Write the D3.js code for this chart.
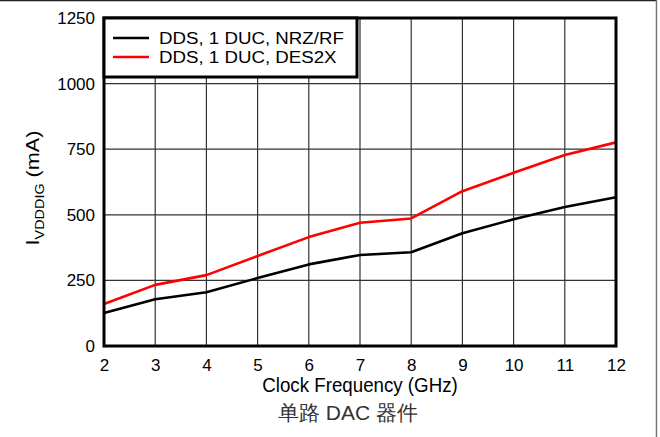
<!DOCTYPE html>
<html>
<head>
<meta charset="utf-8">
<script src="https://cdn.jsdelivr.net/npm/d3@7"></script>
<style>
  body { margin: 0; background: #fff; }
  text { font-family: "Liberation Sans", Arial, sans-serif; }
</style>
</head>
<body>
<script>
// chart data
var freqs = [2, 3, 4, 5, 6, 7, 8, 9, 10, 11, 12];
var nrzValues = [126, 178, 205, 259, 311, 347, 357, 430, 483, 530, 567];
var desValues = [160, 233, 270, 343, 415, 470, 486, 590, 660, 728, 776];
var seriesNames = ["DDS, 1 DUC, NRZ/RF", "DDS, 1 DUC, DES2X"];
var seriesColors = ["#000000", "#ff0000"];
var yTicks = [0, 250, 500, 750, 1000, 1250];

function drawChart() {
  var w = 660, h = 437;
  var pLeft = 104, pRight = 616, pTop = 18, pBottom = 346;
  // the source figure looks squeezed sideways, so text is narrowed a bit
  var squeeze = 0.96;

  var svg = d3.select("body").append("svg")
    .attr("width", w)
    .attr("height", h);

  // outer frame of the figure
  svg.append("line").attr("x1", 0).attr("x2", 657).attr("y1", 0.5).attr("y2", 0.5)
    .attr("stroke", "#222").attr("stroke-width", 1.5);
  svg.append("line").attr("x1", 656.5).attr("x2", 656.5).attr("y1", 0).attr("y2", h)
    .attr("stroke", "#777").attr("stroke-width", 1.5);

  var x = d3.scaleLinear().domain([2, 12]).range([pLeft, pRight]);
  var y = d3.scaleLinear().domain([0, 1250]).range([pBottom, pTop]);

  // grid
  svg.append("g").selectAll("line").data(freqs.slice(1, -1)).enter().append("line")
    .attr("x1", function(d) { return x(d); })
    .attr("x2", function(d) { return x(d); })
    .attr("y1", pTop).attr("y2", pBottom)
    .attr("stroke", "#333").attr("stroke-width", 1.2);
  svg.append("g").selectAll("line").data(yTicks.slice(1, -1)).enter().append("line")
    .attr("x1", pLeft).attr("x2", pRight)
    .attr("y1", function(d) { return y(d); })
    .attr("y2", function(d) { return y(d); })
    .attr("stroke", "#333").attr("stroke-width", 1.2);

  // axes, only the labels are kept
  var xAxis = d3.axisBottom(x).tickValues(freqs).tickSize(0).tickPadding(13)
    .tickFormat(d3.format("d"));
  var yAxis = d3.axisLeft(y).tickValues(yTicks).tickSize(0).tickPadding(9)
    .tickFormat(d3.format("d"));

  var gx = svg.append("g").attr("transform", "translate(0," + pBottom + ")").call(xAxis);
  var gy = svg.append("g").attr("transform", "translate(" + pLeft + ",0)").call(yAxis);
  [gx, gy].forEach(function(g) {
    g.attr("font-size", 17).attr("font-family", "Liberation Sans, Arial, sans-serif");
    g.select(".domain").remove();
    g.selectAll("text").attr("fill", "#000");
  });

  // series lines
  var line = d3.line()
    .x(function(d, i) { return x(freqs[i]); })
    .y(function(d) { return y(d); });

  [nrzValues, desValues].forEach(function(vals, i) {
    svg.append("path")
      .datum(vals)
      .attr("d", line)
      .attr("fill", "none")
      .attr("stroke", seriesColors[i])
      .attr("stroke-width", 2.6)
      .attr("stroke-linejoin", "round");
  });

  // plot frame
  svg.append("rect")
    .attr("x", pLeft).attr("y", pTop)
    .attr("width", pRight - pLeft).attr("height", pBottom - pTop)
    .attr("fill", "none").attr("stroke", "#000").attr("stroke-width", 3);

  // legend
  var lg = svg.append("g");
  lg.append("rect")
    .attr("x", pLeft).attr("y", pTop)
    .attr("width", 253).attr("height", 59)
    .attr("fill", "#fff").attr("stroke", "#000").attr("stroke-width", 3);
  seriesNames.forEach(function(name, i) {
    var ly = 38 + i * 19;
    lg.append("line")
      .attr("x1", 113).attr("x2", 149).attr("y1", ly).attr("y2", ly)
      .attr("stroke", seriesColors[i]).attr("stroke-width", 2.6);
    lg.append("text")
      .attr("transform", "translate(159," + (ly + 6) + ") scale(1.1,1)")
      .attr("font-size", 17)
      .text(name);
  });

  // axis titles
  svg.append("text")
    .attr("transform", "translate(" + ((pLeft + pRight) / 2) + ",392) scale(" + squeeze + ",1)")
    .attr("text-anchor", "middle")
    .attr("font-size", 19.5)
    .text("Clock Frequency (GHz)");

  var yl = svg.append("text")
    .attr("transform", "translate(39,188) rotate(-90) scale(1.2,1)")
    .attr("text-anchor", "middle")
    .attr("font-size", 18);
  yl.append("tspan").text("I");
  yl.append("tspan").attr("font-size", 12).attr("dy", 4.5).text("VDDDIG");
  yl.append("tspan").attr("dy", -4.5).text(" (mA)");

  svg.append("text")
    .attr("x", 348).attr("y", 420)
    .attr("text-anchor", "middle")
    .attr("font-size", 21)
    .attr("fill", "#333")
    .attr("font-family", "Noto Sans CJK SC, sans-serif")
    .text("单路 DAC 器件");
}

drawChart();
</script>
</body>
</html>
